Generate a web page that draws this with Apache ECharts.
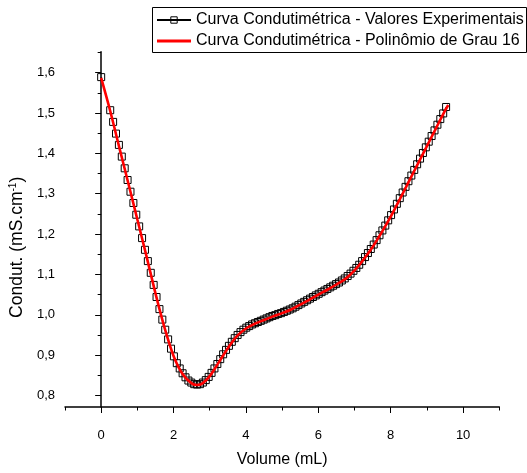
<!DOCTYPE html>
<html>
<head>
<meta charset="utf-8">
<script src="https://cdn.jsdelivr.net/npm/echarts@6/dist/echarts.min.js"></script>
<style>html,body{margin:0;padding:0;background:#fff;}#c{width:527px;height:473px;}</style>
</head>
<body>
<div id="c"></div>
<script>
// Experimental data (Volume mL, Condutividade mS/cm)
const volExp = [0, 0.25, 0.33, 0.41, 0.49, 0.57, 0.65, 0.73, 0.81, 0.89, 0.97, 1.05, 1.13, 1.21, 1.29, 1.37, 1.45, 1.53, 1.61, 1.69, 1.77, 1.85, 1.93, 2.01, 2.09, 2.17, 2.25, 2.33, 2.41, 2.49, 2.57, 2.65, 2.73, 2.81, 2.89, 2.97, 3.05, 3.13, 3.21, 3.29, 3.37, 3.45, 3.53, 3.61, 3.69, 3.77, 3.85, 3.93, 4.01, 4.09, 4.17, 4.25, 4.33, 4.41, 4.49, 4.57, 4.65, 4.73, 4.81, 4.89, 4.97, 5.05, 5.13, 5.21, 5.29, 5.37, 5.45, 5.53, 5.61, 5.69, 5.77, 5.85, 5.93, 6.01, 6.09, 6.17, 6.25, 6.33, 6.41, 6.49, 6.57, 6.65, 6.73, 6.81, 6.89, 6.97, 7.05, 7.13, 7.21, 7.29, 7.37, 7.45, 7.53, 7.61, 7.69, 7.77, 7.85, 7.93, 8.01, 8.09, 8.17, 8.25, 8.33, 8.41, 8.49, 8.57, 8.65, 8.73, 8.81, 8.89, 8.97, 9.05, 9.13, 9.21, 9.29, 9.37, 9.45, 9.53];
const condExp = [1.589, 1.507, 1.478, 1.449, 1.421, 1.392, 1.363, 1.334, 1.305, 1.277, 1.248, 1.219, 1.190, 1.161, 1.133, 1.104, 1.074, 1.044, 1.014, 0.988, 0.963, 0.939, 0.916, 0.897, 0.880, 0.867, 0.855, 0.845, 0.837, 0.832, 0.828, 0.827, 0.828, 0.832, 0.838, 0.846, 0.856, 0.867, 0.878, 0.890, 0.902, 0.913, 0.923, 0.933, 0.942, 0.950, 0.957, 0.963, 0.968, 0.972, 0.976, 0.979, 0.982, 0.985, 0.988, 0.991, 0.994, 0.997, 0.999, 1.002, 1.004, 1.007, 1.010, 1.013, 1.016, 1.020, 1.024, 1.028, 1.032, 1.036, 1.040, 1.044, 1.048, 1.052, 1.056, 1.060, 1.064, 1.068, 1.072, 1.076, 1.080, 1.085, 1.090, 1.096, 1.102, 1.109, 1.116, 1.124, 1.133, 1.143, 1.153, 1.163, 1.174, 1.185, 1.197, 1.209, 1.221, 1.234, 1.247, 1.261, 1.275, 1.289, 1.303, 1.317, 1.331, 1.345, 1.359, 1.373, 1.387, 1.401, 1.415, 1.429, 1.443, 1.457, 1.471, 1.485, 1.499, 1.515];
// Polynomial fit (degree 16)
const volFit = [0, 0.25, 0.5, 0.75, 1.0, 1.25, 1.5, 1.75, 2.0, 2.25, 2.5, 2.65, 2.8, 3.0, 3.25, 3.5, 3.75, 4.0, 4.25, 4.5, 4.75, 5.0, 5.25, 5.5, 5.75, 6.0, 6.25, 6.5, 6.75, 7.0, 7.25, 7.5, 7.75, 8.0, 8.25, 8.5, 8.75, 9.0, 9.25, 9.5, 9.59];
const condFit = [1.587, 1.505, 1.415, 1.326, 1.236, 1.146, 1.053, 0.968, 0.898, 0.853, 0.830, 0.826, 0.830, 0.848, 0.882, 0.917, 0.947, 0.966, 0.978, 0.987, 0.996, 1.004, 1.013, 1.025, 1.037, 1.050, 1.062, 1.075, 1.089, 1.110, 1.137, 1.168, 1.204, 1.243, 1.286, 1.330, 1.374, 1.418, 1.462, 1.506, 1.520];

const seriesNames = ['Curva Condutimétrica - Valores Experimentais', 'Curva Condutimétrica - Polinômio de Grau 16'];
const xMajor = [0, 2, 4, 6, 8, 10];
const xMinor = [-1, 1, 3, 5, 7, 9, 11];
const yMajor = [0.8, 0.9, 1.0, 1.1, 1.2, 1.3, 1.4, 1.5, 1.6];
const yMinor = [0.85, 0.95, 1.05, 1.15, 1.25, 1.35, 1.45, 1.55, 1.65];
const xRange = [-1, 11];
const yRange = [0.7714, 1.652];

const FONT = 'Liberation Sans, Arial, sans-serif';
const expData = volExp.map((v, i) => [v, condExp[i]]);
const fitData = volFit.map((v, i) => [v, condFit[i]]);

const chart = echarts.init(document.getElementById('c'), null, {renderer: 'canvas'});
chart.setOption({
  animation: false,
  backgroundColor: '#fff',
  grid: {left: 64.5, right: 27.7, top: 51.7, bottom: 64.7},
  graphic: [{
    type: 'rect', shape: {x: 152.5, y: 7.5, width: 374, height: 45},
    style: {fill: 'none', stroke: '#000', lineWidth: 1}, z: 0
  }],
  legend: {
    orient: 'vertical', left: 156, top: 12, padding: 0,
    itemWidth: 34, itemHeight: 8, itemGap: 5,
    textStyle: {fontFamily: FONT, fontSize: 16, color: '#000', lineHeight: 16},
    data: [
      {name: seriesNames[0], itemStyle: {borderWidth: 1}},
      {name: seriesNames[1], icon: 'path://M0,0H34V3H0Z', itemStyle: {color: '#ff0000'}}
    ]
  },
  xAxis: [{
    type: 'value', min: xRange[0], max: xRange[1],
    name: 'Volume (mL)', nameLocation: 'middle', nameGap: 45,
    nameTextStyle: {fontFamily: FONT, fontSize: 16, color: '#000'},
    axisLine: {show: true, lineStyle: {color: '#000', width: 1.5}},
    axisTick: {show: true, inside: false, length: 6, customValues: xMajor, lineStyle: {color: '#000', width: 1}},
    axisLabel: {show: true, customValues: xMajor, margin: 22, fontFamily: FONT, fontSize: 13, color: '#000'},
    splitLine: {show: false}
  }, {
    type: 'value', min: xRange[0], max: xRange[1], position: 'bottom',
    axisLine: {show: false},
    axisTick: {show: true, inside: false, length: 3.5, customValues: xMinor, lineStyle: {color: '#000', width: 1}},
    axisLabel: {show: false},
    splitLine: {show: false}
  }],
  yAxis: [{
    type: 'value', min: yRange[0], max: yRange[1],
    name: '{a|Condut. (mS.cm}{s|-1}{a|)}', nameLocation: 'middle', nameGap: 31,
    nameTextStyle: {fontFamily: FONT, fontSize: 17.5, color: '#000', padding: [0, 36, 0, 0],
      rich: {a: {fontFamily: FONT, fontSize: 17.5, color: '#000'}, s: {fontFamily: FONT, fontSize: 10, color: '#000', verticalAlign: 'top', padding: [0, 0, 7, 0]}}},
    axisLine: {show: true, lineStyle: {color: '#000', width: 1.5}},
    axisTick: {show: true, inside: false, length: 6, customValues: yMajor, lineStyle: {color: '#000', width: 1}},
    axisLabel: {show: true, customValues: yMajor, margin: 10, fontFamily: FONT, fontSize: 13, color: '#000',
      formatter: v => v.toFixed(1).replace('.', ',')},
    splitLine: {show: false}
  }, {
    type: 'value', min: yRange[0], max: yRange[1], position: 'left',
    axisLine: {show: false},
    axisTick: {show: true, inside: false, length: 3.5, customValues: yMinor, lineStyle: {color: '#000', width: 1}},
    axisLabel: {show: false},
    splitLine: {show: false}
  }],
  series: [{
    name: seriesNames[0], type: 'line', data: expData,
    symbol: 'rect', symbolSize: 7, showSymbol: true,
    lineStyle: {color: '#000', width: 1},
    itemStyle: {color: 'rgba(255,255,255,0)', borderColor: '#000', borderWidth: 1},
    z: 2
  }, {
    name: seriesNames[1], type: 'line', data: fitData,
    smooth: 0.3, symbol: 'none', showSymbol: false,
    lineStyle: {color: '#ff0000', width: 2.6},
    itemStyle: {color: '#ff0000'},
    z: 3
  }]
});
</script>
</body>
</html>
